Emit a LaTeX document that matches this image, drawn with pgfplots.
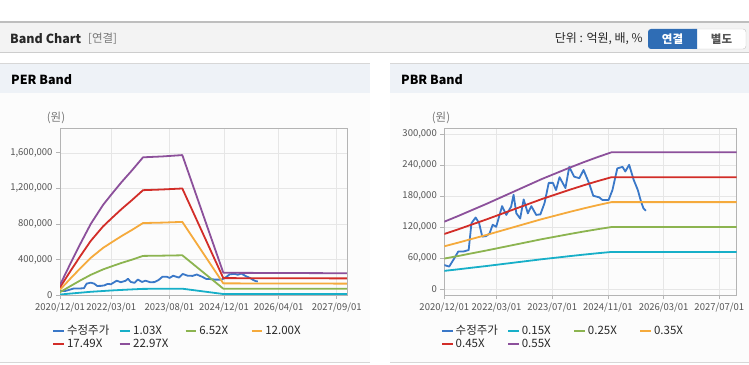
\documentclass[border=0pt]{standalone}
\usepackage{pgfplots}
\pgfplotsset{compat=1.18}
\usepackage{pgfplotstable}
\usepackage{fontspec}
\setmainfont{Noto Sans CJK KR}

\definecolor{cPrice}{RGB}{58,120,200}
\definecolor{cTeal}{RGB}{23,175,200}
\definecolor{cGreen}{RGB}{140,180,80}
\definecolor{cOrange}{RGB}{245,170,60}
\definecolor{cRed}{RGB}{210,45,40}
\definecolor{cPurple}{RGB}{140,80,155}
\definecolor{hdr}{RGB}{243,243,243}
\definecolor{hdrline}{RGB}{190,190,190}
\definecolor{hdrshadow}{RGB}{205,205,205}
\definecolor{phdr}{RGB}{238,242,247}
\definecolor{pbody}{RGB}{252,252,252}
\definecolor{pline}{RGB}{215,215,215}
\definecolor{btn}{RGB}{47,109,181}
\definecolor{btnborder}{RGB}{200,200,200}
\definecolor{txt}{RGB}{40,40,40}
\definecolor{txtgray}{RGB}{120,120,120}
\definecolor{axisc}{RGB}{180,180,180}
\definecolor{gridc}{RGB}{230,230,230}
\definecolor{tickc}{RGB}{85,85,85}

\pgfplotstableread{
m teal green orange red purple
0 5000 32000 59000 86000 113000
3 16000 99000 183000 266000 350000
6 26000 165000 303000 441000 580000
9 36000 227000 418000 609000 800000
12.6 45000 288000 530000 772000 1014000
15 51000 321000 590000 860000 1130000
18 57000 361000 663000 967000 1270000
21 63000 397000 731000 1066000 1400000
24.3 69000 440000 810000 1180000 1550000
30 70000 443000 815000 1188000 1560000
35.8 71000 447000 823000 1199000 1575000
47.8 11000 71000 131000 190000 250000
84 11000 70000 128000 187000 245000
}\perbands

\pgfplotstableread{
m b15 b25 b35 b45 b55
0 35700 59500 83300 107100 130900
4 38700 64500 90300 116100 141900
8 41900 69800 97700 125600 153500
12 45000 75000 105000 135000 165000
16 48300 80500 112700 144900 177100
20 51600 86000 120400 154800 189200
24 54900 91500 128100 164700 201300
28 58200 97000 135800 174600 213400
32 61200 102000 142800 183600 224400
36 64200 107000 149800 192600 235400
40 67100 111800 156500 201200 245900
44 69800 116300 162800 209300 255800
48 72300 120500 168700 216900 265100
84 72300 120500 168700 216900 265100
}\pbrbands

\pgfplotstableread{
m p
0 47000
1.4 44000
2.6 57000
4 73000
5.4 73000
7 76000
7.8 128000
9 139000
10 128000
10.9 102000
12 103000
13 108000
13.9 125000
14.9 121000
16.6 161000
17.8 144000
19.2 160000
19.9 183000
20.7 147000
21.8 137000
22.8 174000
24 147000
25 161000
26.4 144000
27.6 145000
28.8 167000
30 206000
31.2 206000
32.1 192000
33.1 217000
34.8 196000
35.9 237000
37.3 218000
38.8 215000
40 231000
41.6 205000
42.8 181000
44.5 178000
45.4 173000
47.2 173000
48.3 192000
49.7 234000
51.2 237000
52 228000
53.1 241000
54.4 212000
55.6 192000
56.5 170000
57.2 157000
57.9 152000
}\price

\pgfplotsset{
  bandax/.style={
    scale only axis,
    xmin=0, xmax=84,
    axis line style={axisc, line width=0.8pt},
    grid=major,
    grid style={gridc, line width=0.6pt},
    major tick style={axisc, line width=0.8pt},
    xtick pos=bottom, ytick pos=left,
    tick align=outside,
    major tick length=4pt,
    every tick label/.append style={font=\fontsize{9.5}{11}\selectfont, text=tickc},
    /pgf/number format/assume math mode=true,
    scaled y ticks=false,
    legend style={draw=none, fill=none, anchor=north west,
      font=\fontsize{11.5}{13}\selectfont, text=txt,
      column sep=0pt, row sep=0pt, inner sep=0pt,
      nodes={inner xsep=2pt, inner ysep=1.5pt, text height=8pt, text depth=2pt}},
    legend columns=4,
    legend cell align=left,
    legend image code/.code={\draw[##1, line width=2pt] (0pt,0pt) -- (10.6pt,0pt);},
    every axis plot/.append style={line width=1.8pt, line join=round},
  }
}

\begin{document}
\begin{tikzpicture}[x=1pt,y=1pt]
\useasboundingbox (0,0) rectangle (749,364);
\fill[white] (0,0) rectangle (749,364);

% top header bar
\fill[hdr] (0,312) rectangle (749,342);
\draw[line width=1.5pt, hdrline] (0,342) -- (749,342);
\draw[line width=1.2pt, hdrshadow] (0,311.5) -- (749,311.5);
\node[anchor=west, inner sep=0pt, text=txt, font=\bfseries\fontsize{12.5}{14}\selectfont] at (10,325) {Band Chart};
\node[anchor=west, inner sep=0pt, text=txtgray, font=\fontsize{11.5}{13}\selectfont] at (88,325) {[연결]};
\node[anchor=east, inner sep=0pt, text=txt, font=\fontsize{12}{14}\selectfont] at (643,325) {단위 : 억원, 배, \%};
\draw[btnborder, fill=white, rounded corners=3pt] (690,315) rectangle (746,335);
\fill[btn] (697,315) -- (697,335) [rounded corners=3pt] -- (648,335) -- (648,315) [sharp corners] -- cycle;
\node[text=white, font=\bfseries\fontsize{11.5}{13}\selectfont] at (672.5,325) {연결};
\node[text=tickc, font=\bfseries\fontsize{11.5}{13}\selectfont] at (721.5,325) {별도};

% panels
\fill[phdr] (0,271) rectangle (370,300);
\fill[pbody] (0,2) rectangle (370,271);
\draw[pline, line width=1pt] (0,300) -- (370,300);
\draw[pline, line width=1.5pt] (0,1.5) -- (370,1.5);
\fill[phdr] (390,271) rectangle (749,300);
\fill[pbody] (390,2) rectangle (749,271);
\draw[pline, line width=1pt] (390,300) -- (749,300);
\draw[pline, line width=1.5pt] (390,1.5) -- (749,1.5);
\node[anchor=west, inner sep=0pt, text=black, font=\bfseries\fontsize{12.5}{14}\selectfont] at (11,284) {PER Band};
\node[anchor=west, inner sep=0pt, text=black, font=\bfseries\fontsize{12.5}{14}\selectfont] at (401,284) {PBR Band};
\node[text=txtgray, font=\fontsize{11.5}{13}\selectfont] at (56,246) {(원)};
\node[text=txtgray, font=\fontsize{11.5}{13}\selectfont] at (441,246) {(원)};

% PER axis
\begin{axis}[bandax,
  at={(60pt,69pt)}, anchor=south west,
  width=287pt, height=167pt,
  ymin=0, ymax=1880000,
  xtick={0,15,32,48,64,81},
  xticklabels={2020/12/01,2022/03/01,2023/08/01,2024/12/01,2026/04/01,2027/09/01},
  ytick={0,400000,800000,1200000,1600000},
  yticklabels={0,{400,000},{800,000},{1,200,000},{1,600,000}},
  legend style={at={(-0.027,-0.177)}},
]
\addplot[cPrice] table[x=m,y=p] {\price};
\addplot[cTeal] table[x=m,y=teal] {\perbands};
\addplot[cGreen] table[x=m,y=green] {\perbands};
\addplot[cOrange] table[x=m,y=orange] {\perbands};
\addplot[cRed] table[x=m,y=red] {\perbands};
\addplot[cPurple] table[x=m,y=purple] {\perbands};
\addlegendentry{\makebox[49.5pt][l]{수정주가}}
\addlegendentry{\makebox[49.5pt][l]{1.03X}}
\addlegendentry{\makebox[49.5pt][l]{6.52X}}
\addlegendentry{\makebox[49.5pt][l]{12.00X}}
\addlegendentry{\makebox[49.5pt][l]{17.49X}}
\addlegendentry{\makebox[49.5pt][l]{22.97X}}
\end{axis}

% PBR axis
\begin{axis}[bandax,
  at={(444.3pt,69pt)}, anchor=south west,
  width=292.4pt, height=166.7pt,
  ymin=-11000, ymax=311600,
  xtick={0,15,31,47,63,79},
  xticklabels={2020/12/01,2022/03/01,2023/07/01,2024/11/01,2026/03/01,2027/07/01},
  ytick={0,60000,120000,180000,240000,300000},
  yticklabels={0,{60,000},{120,000},{180,000},{240,000},{300,000}},
  legend style={at={(-0.0115,-0.177)}},
]
\addplot[cPrice] table[x=m,y=p] {\price};
\addplot[cTeal] table[x=m,y=b15] {\pbrbands};
\addplot[cGreen] table[x=m,y=b25] {\pbrbands};
\addplot[cOrange] table[x=m,y=b35] {\pbrbands};
\addplot[cRed] table[x=m,y=b45] {\pbrbands};
\addplot[cPurple] table[x=m,y=b55] {\pbrbands};
\addlegendentry{\makebox[49.5pt][l]{수정주가}}
\addlegendentry{\makebox[49.5pt][l]{0.15X}}
\addlegendentry{\makebox[49.5pt][l]{0.25X}}
\addlegendentry{\makebox[49.5pt][l]{0.35X}}
\addlegendentry{\makebox[49.5pt][l]{0.45X}}
\addlegendentry{\makebox[49.5pt][l]{0.55X}}
\end{axis}
\end{tikzpicture}
\end{document}
